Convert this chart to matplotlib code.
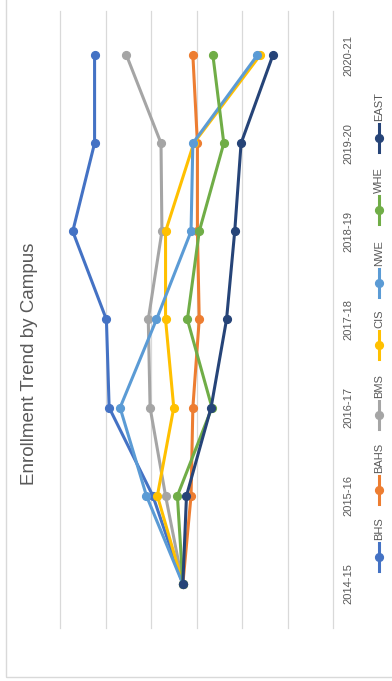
import matplotlib.pyplot as plt
from matplotlib.lines import Line2D
from matplotlib.patches import Rectangle

# school years (bottom to top in the rotated picture)
years = ["2014-15", "2015-16", "2016-17", "2017-18", "2018-19", "2019-20", "2020-21"]

# enrollment index per campus
bhs = [96.5, 99.8, 104.6, 104.9, 108.6, 106.2, 106.2]
bahs = [96.5, 95.6, 95.4, 94.7, 94.9, 94.9, 95.4]
bms = [96.5, 98.4, 100.1, 100.3, 98.8, 98.9, 102.7]
cis = [96.5, 99.3, 97.5, 98.4, 98.4, 95.3, 88.0]
nwe = [96.5, 100.5, 103.4, 99.4, 95.6, 95.4, 88.3]
whe = [96.5, 97.1, 93.3, 96.0, 94.7, 92.0, 93.2]
east = [96.5, 96.1, 93.4, 91.7, 90.8, 90.1, 86.6]

names = ["BHS", "BAHS", "BMS", "CIS", "NWE", "WHE", "EAST"]
series = [bhs, bahs, bms, cis, nwe, whe, east]
colors = ["#4472C4", "#ED7D31", "#A5A5A5", "#FFC000", "#5B9BD5", "#70AD47", "#264478"]

grid = [80, 85, 90, 95, 100, 105, 110]

plt.rcParams["font.family"] = ["Liberation Sans", "DejaVu Sans"]
W, H = 392, 681
fig = plt.figure(figsize=(W / 100, H / 100), dpi=100)

# the whole chart is turned on its side: values run right-to-left, years bottom-to-top
ax = fig.add_axes([60 / W, 1 - 628 / H, (333 - 60) / W, (628 - 11) / H])
ax.set_xlim(110, 80)
ax.set_ylim(-0.5, len(years) - 0.5)
for g in grid:
    ax.axvline(g, color="#d9d9d9", lw=0.9, zorder=0, clip_on=False)
for s in ax.spines.values():
    s.set_visible(False)
ax.set_xticks([])
ax.set_yticks([])

pos = list(range(len(years)))
for i, (vals, c) in enumerate(zip(series, colors)):
    ax.plot(vals, pos, color=c, lw=2.2, marker="o", ms=5.6, zorder=2 + i,
            solid_capstyle="round")

# year labels on the right
for p, yr in zip(pos, years):
    ax.text(1.055, (p + 0.5) / len(years), yr, transform=ax.transAxes,
            rotation=90, ha="center", va="center", fontsize=8, color="#595959")

# title on the left
fig.text(30 / W, 1 - 364 / H, "Enrollment Trend by Campus", rotation=90,
         ha="center", va="center", fontsize=13.5, color="#595959")

# legend, drawn by hand because it is rotated too
leg_y = [557, 490, 415, 345, 283, 210, 138]
lx = 379 / W
for name, c, yc in zip(names, colors, leg_y):
    y0 = 1 - (yc + 14) / H
    y1 = 1 - (yc - 14) / H
    fig.add_artist(Line2D([lx, lx], [y0, y1], color=c, lw=2.2,
                          transform=fig.transFigure))
    fig.add_artist(Line2D([lx], [1 - yc / H], color=c, marker="o", ms=5.6,
                          transform=fig.transFigure))
    fig.text(lx, y1 + 3 / H, name, rotation=90, ha="center", va="bottom",
             fontsize=8, color="#595959")

# chart area border
fig.add_artist(Rectangle((6 / W, 1 - 677 / H), 1.0, 1.0, fill=False,
                         edgecolor="#d9d9d9", lw=1.0, transform=fig.transFigure))

fig.savefig("out.png", dpi=100)
